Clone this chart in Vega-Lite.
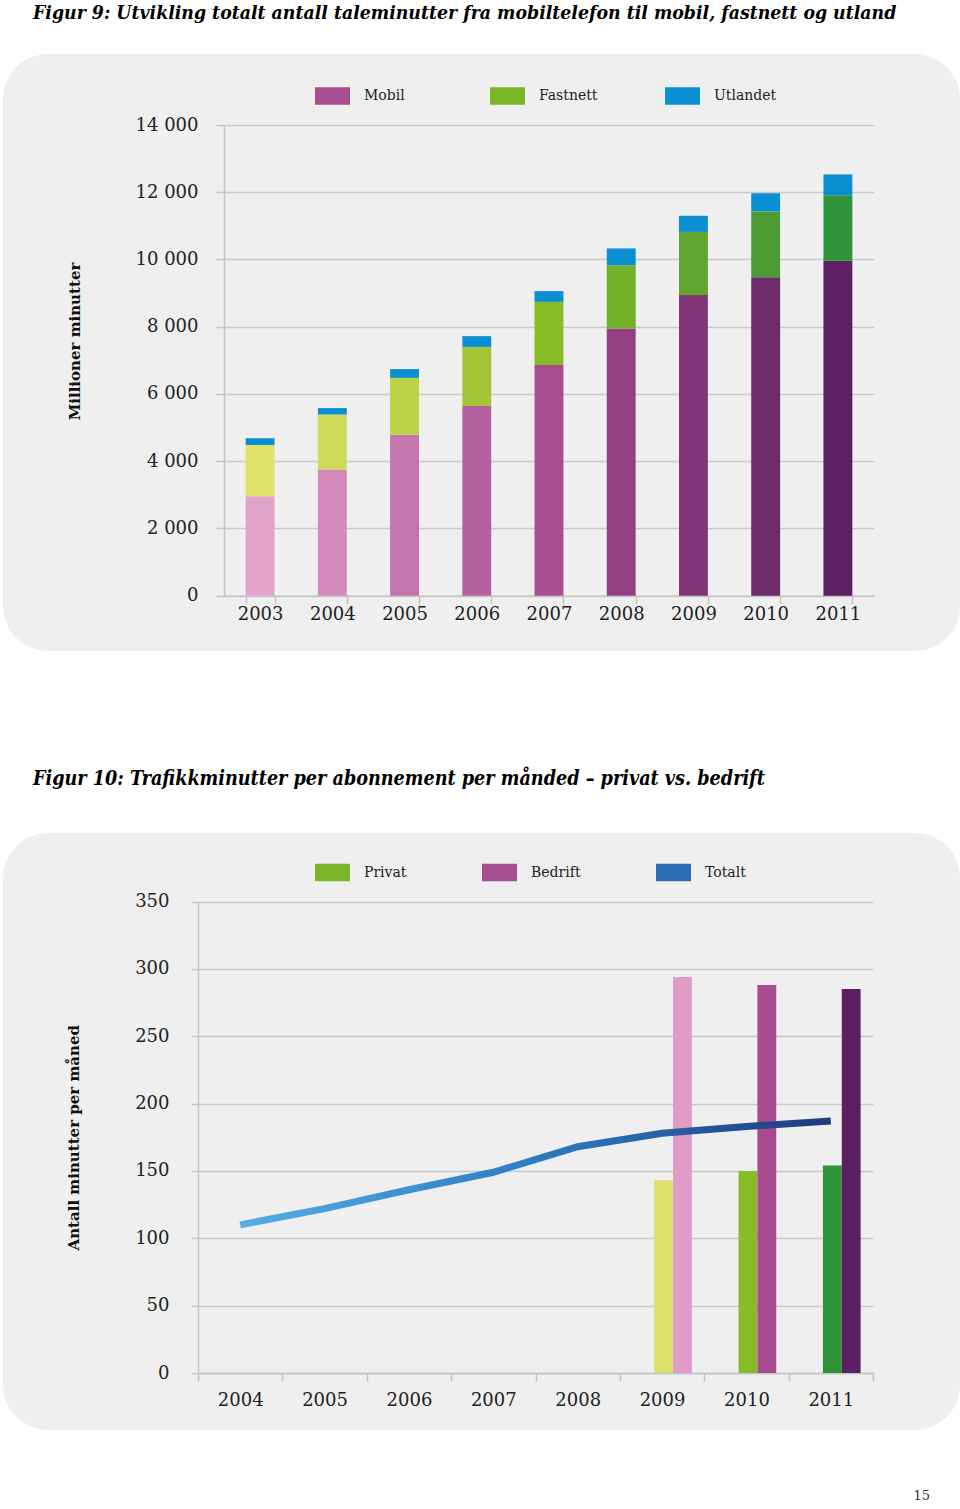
{
  "$schema": "https://vega.github.io/schema/vega-lite/v6.json",
  "background": "white",
  "padding": {"left": 3, "top": 3, "right": 0, "bottom": 0},
  "config": {
    "view": {"fill": "#efefef", "stroke": null, "cornerRadius": 45},
    "font": "DejaVu Serif",
    "axis": {
      "labelFont": "DejaVu Serif", "labelFontSize": 18, "labelColor": "#222",
      "domainColor": "#c4c4c4", "tickColor": "#c4c4c4", "gridColor": "#c9c9c9",
      "domainWidth": 1.5, "tickWidth": 1.5, "gridWidth": 1.5,
      "titleFont": "DejaVu Serif", "titleFontSize": 15, "titleFontWeight": "bold", "titleColor": "#111"
    }
  },
  "title": {"text": "15", "orient": "bottom", "anchor": "end", "fontSize": 13, "fontWeight": "normal", "font": "DejaVu Serif", "color": "#333", "offset": 60, "dx": -30},
  "spacing": 118,
  "resolve": {"scale": {"x": "independent", "y": "independent", "fill": "independent"}, "legend": {"fill": "independent"}},
  "vconcat": [
    {
      "width": 957, "height": 597,
      "title": {"text": "Figur 9: Utvikling totalt antall taleminutter fra mobiltelefon til mobil, fastnett og utland", "anchor": "start", "dx": 30, "offset": 31, "font": "DejaVu Serif Condensed", "fontSize": 19.3, "fontStyle": "italic", "fontWeight": "bold", "color": "#000"},
      "data": {"values": [
        {"year": "2003", "series": "Mobil", "key": "M2003", "ord": 1, "value": 2960},
        {"year": "2003", "series": "Fastnett", "key": "F2003", "ord": 2, "value": 1520},
        {"year": "2003", "series": "Utlandet", "key": "U", "ord": 3, "value": 200},
        {"year": "2004", "series": "Mobil", "key": "M2004", "ord": 1, "value": 3750},
        {"year": "2004", "series": "Fastnett", "key": "F2004", "ord": 2, "value": 1640},
        {"year": "2004", "series": "Utlandet", "key": "U", "ord": 3, "value": 190},
        {"year": "2005", "series": "Mobil", "key": "M2005", "ord": 1, "value": 4790},
        {"year": "2005", "series": "Fastnett", "key": "F2005", "ord": 2, "value": 1690},
        {"year": "2005", "series": "Utlandet", "key": "U", "ord": 3, "value": 260},
        {"year": "2006", "series": "Mobil", "key": "M2006", "ord": 1, "value": 5640},
        {"year": "2006", "series": "Fastnett", "key": "F2006", "ord": 2, "value": 1760},
        {"year": "2006", "series": "Utlandet", "key": "U", "ord": 3, "value": 320},
        {"year": "2007", "series": "Mobil", "key": "M2007", "ord": 1, "value": 6860},
        {"year": "2007", "series": "Fastnett", "key": "F2007", "ord": 2, "value": 1880},
        {"year": "2007", "series": "Utlandet", "key": "U", "ord": 3, "value": 320},
        {"year": "2008", "series": "Mobil", "key": "M2008", "ord": 1, "value": 7950},
        {"year": "2008", "series": "Fastnett", "key": "F2008", "ord": 2, "value": 1880},
        {"year": "2008", "series": "Utlandet", "key": "U", "ord": 3, "value": 500},
        {"year": "2009", "series": "Mobil", "key": "M2009", "ord": 1, "value": 8940},
        {"year": "2009", "series": "Fastnett", "key": "F2009", "ord": 2, "value": 1880},
        {"year": "2009", "series": "Utlandet", "key": "U", "ord": 3, "value": 480},
        {"year": "2010", "series": "Mobil", "key": "M2010", "ord": 1, "value": 9470},
        {"year": "2010", "series": "Fastnett", "key": "F2010", "ord": 2, "value": 1960},
        {"year": "2010", "series": "Utlandet", "key": "U", "ord": 3, "value": 540},
        {"year": "2011", "series": "Mobil", "key": "M2011", "ord": 1, "value": 9960},
        {"year": "2011", "series": "Fastnett", "key": "F2011", "ord": 2, "value": 1950},
        {"year": "2011", "series": "Utlandet", "key": "U", "ord": 3, "value": 620}
      ]},
      "resolve": {"scale": {"fill": "independent"}, "legend": {"fill": "independent"}},
      "layer": [
        {
          "mark": {"type": "bar", "strokeWidth": 0},
          "encoding": {
            "x": {"field": "year", "type": "ordinal",
              "scale": {"range": [221, 871], "paddingInner": 0.6, "paddingOuter": 0.3},
              "axis": {"title": null, "offset": -55.3, "tickBand": "extent", "tickSize": 8, "labelPadding": 2, "labelAngle": 0, "grid": false}},
            "y": {"field": "value", "type": "quantitative", "stack": "zero",
              "scale": {"domain": [0, 14000], "range": [541.7, 71], "nice": false},
              "axis": {"title": "Millioner minutter", "offset": -221, "values": [0, 2000, 4000, 6000, 8000, 10000, 12000, 14000],
                "labelExpr": "replace(format(datum.value, ','), ',', ' ')", "tickSize": 8, "labelPadding": 18, "titlePadding": 53, "titleY": 287, "grid": true}},
            "fill": {"field": "key", "type": "nominal", "legend": null,
              "scale": {"domain": ["M2003","M2004","M2005","M2006","M2007","M2008","M2009","M2010","M2011","F2003","F2004","F2005","F2006","F2007","F2008","F2009","F2010","F2011","U"],
                "range": ["#e2a3cb","#d48bbc","#c575ae","#b6619f","#a84d92","#944184","#803677","#6d2b6d","#5b1f62","#e1e26a","#cfdb56","#bcd146","#a3c537","#88bc27","#73b029","#5fa52e","#4b9c33","#2f9438","#0b8fd3"]}},
            "order": {"field": "ord", "type": "quantitative"}
          }
        },
        {
          "mark": {"type": "bar", "strokeWidth": 0},
          "encoding": {
            "x": {"field": "year", "type": "ordinal"},
            "y": {"datum": 0, "type": "quantitative"},
            "y2": {"datum": 0},
            "fill": {"field": "series", "type": "nominal",
              "scale": {"domain": ["Mobil", "Fastnett", "Utlandet"], "range": ["#a84d92", "#7cb629", "#0b8fd3"]},
              "legend": {"title": null, "orient": "none", "legendX": 312, "legendY": 24, "direction": "horizontal",
                "symbolType": "M-1,-0.5H1V0.5H-1Z", "symbolSize": 1225, "symbolStrokeWidth": 0, "labelOffset": 14,
                "labelFontSize": 14, "labelFont": "DejaVu Serif", "labelColor": "#222", "columnPadding": 63, "gridAlign": "all", "padding": 0}}
          }
        }
      ]
    },
    {
      "width": 957, "height": 597,
      "title": {"text": "Figur 10: Trafikkminutter per abonnement per månded – privat vs. bedrift", "anchor": "start", "dx": 30, "offset": 43, "font": "DejaVu Serif Condensed", "fontSize": 19.6, "fontStyle": "italic", "fontWeight": "bold", "color": "#000"},
      "resolve": {"scale": {"fill": "independent"}, "legend": {"fill": "independent"}},
      "layer": [
        {
          "data": {"values": [
            {"year": "2009", "series": "Privat", "key": "P2009", "value": 143},
            {"year": "2010", "series": "Privat", "key": "P2010", "value": 150},
            {"year": "2011", "series": "Privat", "key": "P2011", "value": 154},
            {"year": "2009", "series": "Bedrift", "key": "B2009", "value": 294},
            {"year": "2010", "series": "Bedrift", "key": "B2010", "value": 288},
            {"year": "2011", "series": "Bedrift", "key": "B2011", "value": 285}
          ]},
          "mark": {"type": "bar", "strokeWidth": 0},
          "encoding": {
            "x": {"field": "year", "type": "ordinal",
              "scale": {"domain": ["2004","2005","2006","2007","2008","2009","2010","2011"], "range": [195, 870], "paddingInner": 0, "paddingOuter": 0},
              "axis": {"title": null, "offset": -57, "tickBand": "extent", "tickSize": 8, "labelPadding": 10, "labelAngle": 0, "grid": false}},
            "xOffset": {"field": "series", "type": "nominal", "scale": {"domain": ["Privat", "Bedrift"], "range": [34.3, 72], "paddingInner": 0, "paddingOuter": 0}},
            "y": {"field": "value", "type": "quantitative",
              "scale": {"domain": [0, 350], "range": [540, 68.5], "nice": false},
              "axis": {"title": "Antall minutter per måned", "offset": -195, "values": [0, 50, 100, 150, 200, 250, 300, 350],
                "tickSize": 7, "labelPadding": 22, "titlePadding": 53, "grid": true}},
            "fill": {"field": "key", "type": "nominal", "legend": null,
              "scale": {"domain": ["P2009","P2010","P2011","B2009","B2010","B2011"], "range": ["#dde06a","#87bb27","#2e9437","#e09cc7","#a84b8f","#5b1f61"]}}
          }
        },
        {
          "data": {"values": [
            {"year": "2004", "value": 110},
            {"year": "2005", "value": 122},
            {"year": "2006", "value": 136},
            {"year": "2007", "value": 149},
            {"year": "2008", "value": 168},
            {"year": "2009", "value": 178},
            {"year": "2010", "value": 183},
            {"year": "2011", "value": 187}
          ]},
          "mark": {"type": "line", "strokeWidth": 7, "strokeCap": "butt",
            "stroke": {"gradient": "linear", "x1": 0, "y1": 0, "x2": 1, "y2": 0, "stops": [{"offset": 0, "color": "#52aee3"}, {"offset": 0.5, "color": "#2c7cc3"}, {"offset": 1, "color": "#1f3b7c"}]}},
          "encoding": {
            "x": {"field": "year", "type": "ordinal"},
            "y": {"field": "value", "type": "quantitative"}
          }
        },
        {
          "data": {"values": [
            {"year": "2004", "series": "Privat"},
            {"year": "2004", "series": "Bedrift"},
            {"year": "2004", "series": "Totalt"}
          ]},
          "mark": {"type": "bar", "strokeWidth": 0},
          "encoding": {
            "x": {"field": "year", "type": "ordinal"},
            "y": {"datum": 0, "type": "quantitative"},
            "y2": {"datum": 0},
            "fill": {"field": "series", "type": "nominal",
              "scale": {"domain": ["Privat", "Bedrift", "Totalt"], "range": ["#7cb629", "#a84d92", "#2c6fb8"]},
              "legend": {"title": null, "orient": "none", "legendX": 312, "legendY": 22, "direction": "horizontal",
                "symbolType": "M-1,-0.5H1V0.5H-1Z", "symbolSize": 1225, "symbolStrokeWidth": 0, "labelOffset": 14,
                "labelFontSize": 14, "labelFont": "DejaVu Serif", "labelColor": "#222", "columnPadding": 75, "gridAlign": "none", "padding": 0}}
          }
        }
      ]
    }
  ]
}
